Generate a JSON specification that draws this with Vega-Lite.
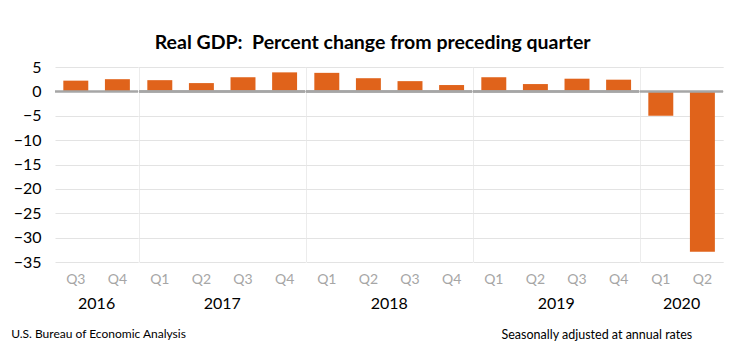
{
  "$schema": "https://vega.github.io/schema/vega-lite/v6.json",
  "padding": {"left": 11, "top": 32, "right": 5, "bottom": 5},
  "background": "white",
  "config": {"font": "Lato", "view": {"stroke": null}, "axisY": {"labelOverlap": false}},
  "title": {"text": "Real GDP:\u00a0 Percent change from preceding quarter", "orient": "top", "anchor": "middle", "fontSize": 19.5, "fontWeight": "bold", "color": "black", "offset": 6, "dx": 5.5},
  "vconcat": [
    {
      "title": {"text": "U.S. Bureau of Economic Analysis", "orient": "bottom", "anchor": "start", "frame": "bounds", "fontSize": 12, "fontWeight": "normal", "color": "black", "dx": -2, "dy": -13, "offset": 0},
      "vconcat": [
        {
          "data": {"values": [
            {"year": "2016", "quarter": "Q3", "value": 2.2},
            {"year": "2016", "quarter": "Q4", "value": 2.5},
            {"year": "2017", "quarter": "Q1", "value": 2.3},
            {"year": "2017", "quarter": "Q2", "value": 1.7},
            {"year": "2017", "quarter": "Q3", "value": 2.9},
            {"year": "2017", "quarter": "Q4", "value": 3.9},
            {"year": "2018", "quarter": "Q1", "value": 3.8},
            {"year": "2018", "quarter": "Q2", "value": 2.7},
            {"year": "2018", "quarter": "Q3", "value": 2.1},
            {"year": "2018", "quarter": "Q4", "value": 1.3},
            {"year": "2019", "quarter": "Q1", "value": 2.9},
            {"year": "2019", "quarter": "Q2", "value": 1.5},
            {"year": "2019", "quarter": "Q3", "value": 2.6},
            {"year": "2019", "quarter": "Q4", "value": 2.4},
            {"year": "2020", "quarter": "Q1", "value": -5.0},
            {"year": "2020", "quarter": "Q2", "value": -32.9}
          ]},
          "title": {"text": "Seasonally adjusted at annual rates", "orient": "bottom", "anchor": "end", "dx": -31, "fontSize": 12.5, "fontWeight": "normal", "color": "black", "offset": 17},
          "facet": {
            "column": {
              "field": "year", "type": "ordinal",
              "header": {
                "title": null,
                "labelOrient": "bottom", "labelFontSize": 16, "labelColor": "black", "labelPadding": 10, "labelFont": "Lato"
              }
            }
          },
          "spacing": 0,
          "resolve": {"scale": {"x": "independent"}},
          "spec": {
            "width": {"step": 41.6},
            "height": 195,
            "layer": [
              {
                "mark": {"type": "bar", "color": "#e0631b", "width": {"band": 0.6}},
                "encoding": {
                  "x": {"field": "quarter", "type": "nominal", "scale": {"paddingInner": 0, "paddingOuter": 0},
                    "axis": {"title": null, "labelColor": "#a6a6a6", "labelFontSize": 14, "ticks": false, "domain": false, "labelPadding": 10, "labelAngle": 0, "grid": false}},
                  "y": {"field": "value", "type": "quantitative", "scale": {"domain": [-35, 5], "nice": false},
                    "axis": {"title": null, "values": [-35, -30, -25, -20, -15, -10, -5, 0, 5], "tickCount": 9, "labelOverlap": false, "grid": true, "gridColor": "#e3e3e3", "domain": false, "ticks": false, "labelFontSize": 16, "labelColor": "black", "labelPadding": 14}}
                }
              },
              {
                "transform": [{"filter": "datum.quarter == 'Q1'"}],
                "mark": {"type": "rule", "color": "#d9d9d9", "strokeWidth": 1, "clip": true},
                "encoding": {"x": {"field": "quarter", "type": "nominal", "bandPosition": 0}}
              },
              {
                "mark": {"type": "rule", "color": "#a6a6a6", "strokeWidth": 2, "clip": true},
                "encoding": {"y": {"datum": 0}}
              }
            ]
          }
        }
      ]
    }
  ]
}
